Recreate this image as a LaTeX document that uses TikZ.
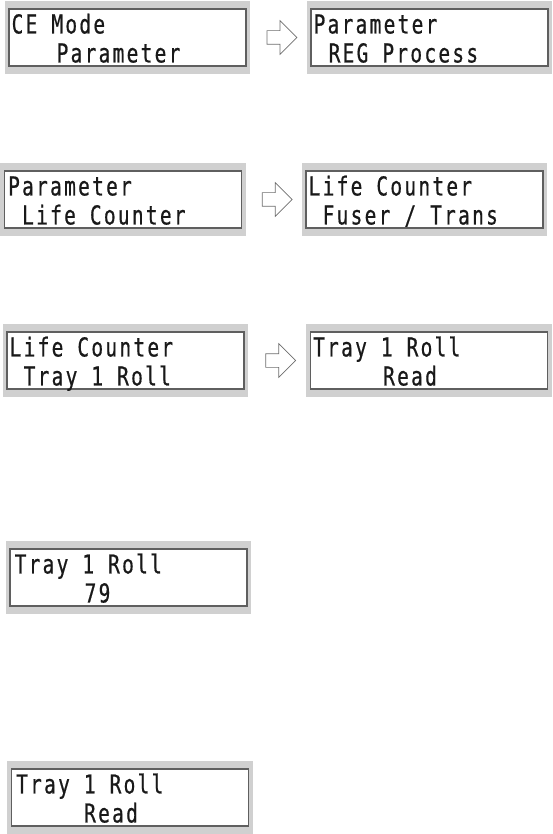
\documentclass[tikz,border=0pt]{standalone}
\usepackage{fontspec}
\newfontfamily\lcdfont[FakeStretch=0.75,LetterSpace=8.7,FakeBold=0.6]{DejaVu Sans Mono}
\usetikzlibrary{calc,fit,backgrounds,shapes.arrows}
\definecolor{lcdframe}{RGB}{208,208,208}
\definecolor{lcdedge}{RGB}{95,95,95}
\definecolor{lcdtext}{RGB}{25,25,25}
\definecolor{lcdarrow}{RGB}{110,110,110}
\tikzset{
  lcd/.style={draw=lcdedge,line width=1.1pt,fill=white,minimum width=237pt,minimum height=57pt,inner sep=0pt},
  frame/.style={fill=lcdframe,inner xsep=3.5pt,inner ysep=7.5pt},
  txt/.style={anchor=base west,inner sep=0pt,text=lcdtext,font=\lcdfont\fontsize{26}{26}\selectfont},
  nextarrow/.style={single arrow,draw=lcdarrow,fill=white,line width=.7pt,inner xsep=0pt,inner ysep=6.5pt,
    minimum height=30pt,single arrow head extend=10pt}
}
\begin{document}
\begin{tikzpicture}[x=1pt,y=-1pt]
	\useasboundingbox (0,0) rectangle (552,834);

	% displays
	\node[lcd] (p1) at (127.5,37.5) {};
	\node[lcd] (q1) at (429.5,37.5) {};
	\node[lcd] (p2) at (123,199.5) {};
	\node[lcd] (q2) at (424.5,199.5) {};
	\node[lcd] (p3) at (125.5,360.5) {};
	\node[lcd] (q3) at (429,360.5) {};
	\node[lcd] (p4) at (128.5,577.5) {};
	\node[lcd] (p5) at (130,797.5) {};

	\begin{scope}[on background layer]
	\foreach \n in {p1,q1,p2,q2,p3,q3,p4,p5}
		\node[frame,fit=(\n)] (f\n) {};
	\end{scope}

	% texts
	\node[txt] (p1a) at ($(p1.north west)+(3,25)$) {CE Mode};
	\node[txt] (p1b) at ($(p1.north west)+(48,54)$) {Parameter};
	\node[txt] (q1a) at ($(q1.north west)+(3,25)$) {Parameter};
	\node[txt] (q1b) at ($(q1.north west)+(18,54)$) {REG Process};

	\node[txt] (p2a) at ($(p2.north west)+(4,25)$) {Parameter};
	\node[txt] (p2b) at ($(p2.north west)+(18,54)$) {Life Counter};
	\node[txt] (q2a) at ($(q2.north west)+(3,25)$) {Life Counter};
	\node[txt] (q2b) at ($(q2.north west)+(17,54)$) {Fuser / Trans};

	\node[txt] (p3a) at ($(p3.north west)+(3,25)$) {Life Counter};
	\node[txt] (p3b) at ($(p3.north west)+(17,54)$) {Tray 1 Roll};
	\node[txt] (q3a) at ($(q3.north west)+(3,25)$) {Tray 1 Roll};
	\node[txt] (q3b) at ($(q3.north west)+(73,54)$) {Read};

	\node[txt] (p4a) at ($(p4.north west)+(5,25)$) {Tray 1 Roll};
	\node[txt] (p4b) at ($(p4.north west)+(75,54)$) {79};

	\node[txt] (p5a) at ($(p5.north west)+(5,25)$) {Tray 1 Roll};
	\node[txt] (p5b) at ($(p5.north west)+(73,54)$) {Read};

	% arrows
	\node[nextarrow] (a1) at ($(p1.east)!.5!(q1.west)$) {};
	\node[nextarrow] (a2) at ($(p2.east)!.5!(q2.west)$) {};
	\node[nextarrow] (a3) at ($(p3.east)!.5!(q3.west)$) {};
\end{tikzpicture}
\end{document}
